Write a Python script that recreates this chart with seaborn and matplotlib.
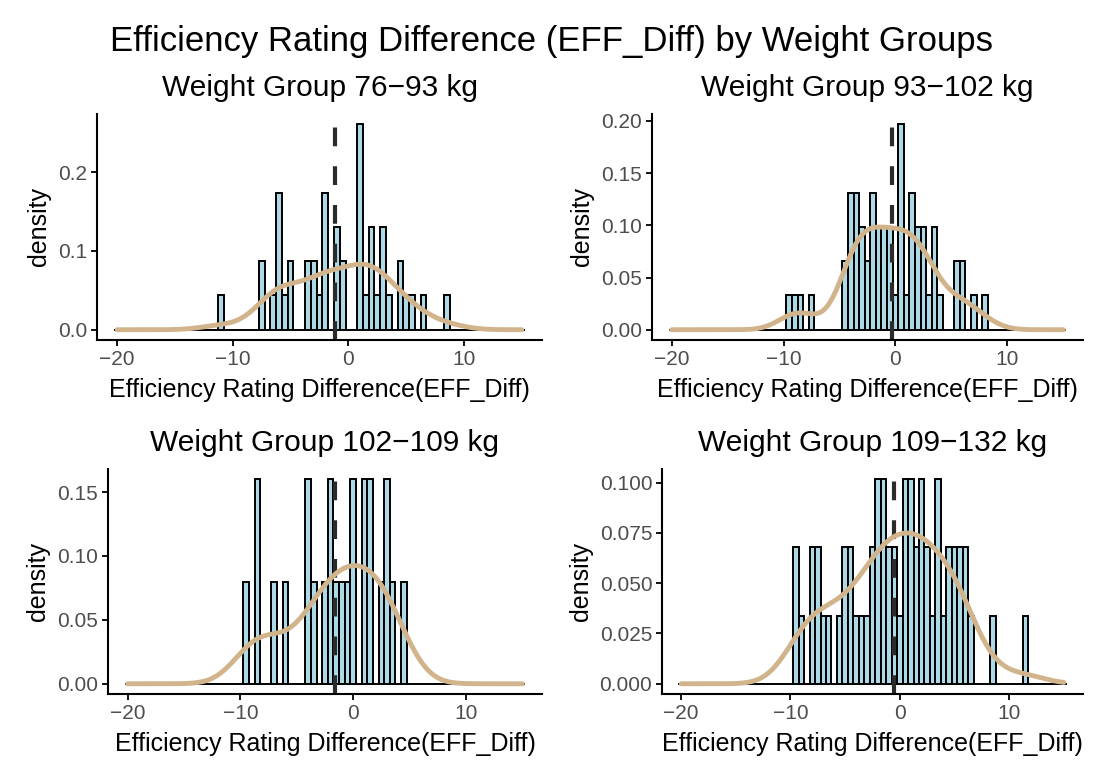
import numpy as np
import matplotlib
matplotlib.use("Agg")
import matplotlib.pyplot as plt
import seaborn as sns

# histogram counts (bin width 0.5, bins centred on multiples of 0.5)
bin_width = 0.5
group_titles = ["Weight Group 76−93 kg", "Weight Group 93−102 kg",
                "Weight Group 102−109 kg", "Weight Group 109−132 kg"]
first_centers = [-11.0, -9.5, -9.5, -9.5]
counts_76_93 = [1, 0, 0, 0, 0, 0, 0, 2, 0, 1, 4, 1, 2, 0, 0, 2, 2, 1, 4, 0,
                3, 2, 0, 0, 6, 1, 3, 1, 3, 1, 0, 2, 1, 1, 0, 1, 0, 0, 0, 1]
counts_93_102 = [1, 1, 1, 0, 1, 0, 0, 0, 0, 0, 2, 4, 4, 3, 2, 4, 3, 3, 3, 1,
                 6, 1, 4, 3, 3, 1, 3, 1, 0, 0, 2, 2, 0, 1, 0, 1]
counts_102_109 = [1, 0, 2, 0, 0, 1, 0, 1, 0, 0, 0, 2, 1, 0, 1, 2, 1, 1, 1, 2,
                  0, 2, 2, 0, 1, 2, 1, 0, 1]
counts_109_132 = [2, 1, 0, 2, 2, 1, 1, 0, 1, 2, 2, 1, 1, 1, 2, 3, 3, 2, 2, 1,
                  3, 3, 2, 3, 2, 1, 3, 1, 2, 2, 2, 2, 1, 0, 0, 0, 1, 0, 0, 0,
                  0, 0, 1]
group_counts = [counts_76_93, counts_93_102, counts_102_109, counts_109_132]
mean_lines = [-1.2, -0.35, -1.6, -0.55]

x_range = (-20, 15)
x_ticks = [-20, -10, 0, 10]
y_ticks = [[0.0, 0.1, 0.2],
           [0.0, 0.05, 0.10, 0.15, 0.20],
           [0.0, 0.05, 0.10, 0.15],
           [0.0, 0.025, 0.050, 0.075, 0.100]]
y_ticklabels = [["0.0", "0.1", "0.2"],
                ["0.00", "0.05", "0.10", "0.15", "0.20"],
                ["0.00", "0.05", "0.10", "0.15"],
                ["0.000", "0.025", "0.050", "0.075", "0.100"]]

sns.set_style("ticks")
plt.rcParams["font.family"] = ["Liberation Sans", "DejaVu Sans"]
plt.rcParams["text.color"] = "black"
plt.rcParams["axes.labelcolor"] = "black"

fig = plt.figure(figsize=(11.04, 7.74), dpi=100)
W, H = 1104, 774
# panel boxes in pixels: left, top, right, bottom
boxes = [(97, 114, 542, 340), (652, 114, 1083, 340),
         (108, 469, 542, 694), (662, 469, 1083, 694)]

edges = np.arange(x_range[0] - bin_width / 2, x_range[1] + bin_width, bin_width)

for i, counts in enumerate(group_counts):
    l, t, r, b = boxes[i]
    ax = fig.add_axes([l / W, 1 - b / H, (r - l) / W, (b - t) / H])

    centers = first_centers[i] + bin_width * np.arange(len(counts))
    values = np.repeat(centers, counts)

    # R-style nrd0 bandwidth, as used by geom_density
    sd = values.std(ddof=1)
    iqr = np.subtract(*np.percentile(values, [75, 25]))
    bw = 0.9 * min(sd, iqr / 1.34) * len(values) ** -0.2

    sns.histplot(x=values, bins=edges, stat="density", color="#ADD8E6",
                 edgecolor="black", linewidth=1.4, alpha=1, ax=ax)
    ax.axvline(mean_lines[i], color="#2b2b2b", lw=3, ls=(0, (4.5, 4.8)))
    sns.kdeplot(x=values, bw_method=bw / sd, cut=40, clip=x_range, gridsize=500,
                color="#D2B48C", linewidth=3.5, ax=ax)

    ymax = max(counts) / (len(values) * bin_width)
    ax.set_xlim(-21.75, 16.75)
    ax.set_ylim(-0.05 * ymax, 1.05 * ymax)
    ax.set_xticks(x_ticks)
    ax.set_yticks(y_ticks[i])
    ax.set_yticklabels(y_ticklabels[i])

    sns.despine(ax=ax)
    for side in ["left", "bottom"]:
        ax.spines[side].set_linewidth(1.5)
        ax.spines[side].set_color("black")
    ax.tick_params(length=4, width=1.3, color="black", labelsize=15,
                   labelcolor="#4D4D4D", pad=3)

    ax.set_title(group_titles[i], fontsize=21.5, pad=13)
    ax.set_xlabel("Efficiency Rating Difference(EFF_Diff)", fontsize=18, labelpad=7)
    ax.set_ylabel("density", fontsize=18, labelpad=5)

fig.suptitle("Efficiency Rating Difference (EFF_Diff) by Weight Groups",
             fontsize=25, y=1 - 42 / H, va="center")

fig.savefig("out.png", dpi=100)
